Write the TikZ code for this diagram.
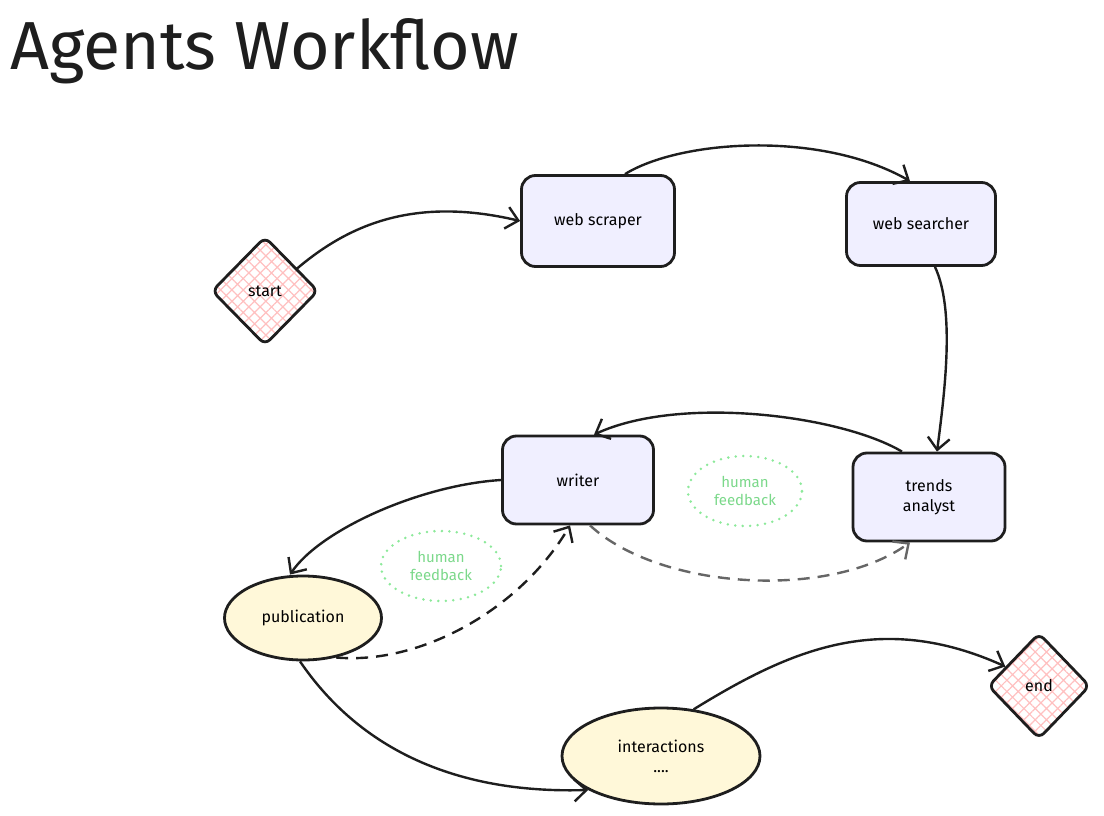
\documentclass[tikz,border=0pt]{standalone}
\usepackage{fontspec}
\setmainfont{Fira Sans}
\usetikzlibrary{shapes.geometric,arrows.meta,patterns.meta}
\definecolor{lav}{HTML}{F0EFFF}
\definecolor{ylw}{HTML}{FFF8D9}
\definecolor{pinkhatch}{HTML}{FFC0C0}
\definecolor{fbgreen}{HTML}{8CE99A}
\definecolor{fbtext}{HTML}{7BD88A}
\definecolor{ink}{HTML}{1E1E1E}
\definecolor{grayline}{HTML}{666666}
\begin{document}
\begin{tikzpicture}[x=1pt,y=1pt,
  agent/.style={draw=ink, line width=2.8pt, fill=lav, rounded corners=14pt,
    align=center, font=\fontsize{16}{20}\selectfont, inner sep=0pt},
  oval/.style={ellipse, draw=ink, line width=2.8pt, fill=ylw, align=center,
    font=\fontsize{16}{20}\selectfont, inner sep=0pt},
  gate/.style={diamond, draw=ink, line width=2.8pt, rounded corners=7pt,
    pattern={Hatch[angle=45,distance=8pt,line width=1.2pt]}, pattern color=pinkhatch,
    font=\fontsize{16}{20}\selectfont, inner sep=0pt},
  feedback/.style={ellipse, draw=fbgreen, line width=2.8pt, line cap=round,
    dash pattern=on 0pt off 7.5pt, text=fbtext, align=center,
    font=\fontsize{15}{18}\selectfont, inner sep=0pt},
  arr/.style={draw=ink, line width=2.4pt,
    -{Straight Barb[length=12pt,width=22pt,line width=2.4pt]}},
  dasharr/.style={arr, dash pattern=on 12pt off 8pt},
  grayarr/.style={dasharr, draw=grayline,
    -{Straight Barb[length=12pt,width=22pt,line width=2.4pt,color=grayline]}}
]
\useasboundingbox (0,0) rectangle (1104,-816);

% title
\node[anchor=base west, inner sep=0pt, font=\fontsize{68}{80}\selectfont, text=ink]
  (title) at (10,-70) {Agents Workflow};

% nodes
\node[gate, minimum width=106pt, minimum height=108pt] (start) at (265,-291) {start};
\node[agent, minimum width=153pt, minimum height=91pt] (scraper) at (598,-221) {web scraper};
\node[agent, minimum width=149pt, minimum height=83pt] (searcher) at (921,-224) {web searcher};
\node[agent, minimum width=152pt, minimum height=88pt] (trends) at (929,-497) {trends\\analyst};
\node[agent, minimum width=151pt, minimum height=88pt] (writer) at (578,-480) {writer};
\node[oval, minimum width=157pt, minimum height=84pt] (publication) at (303,-618) {publication};
\node[oval, minimum width=198pt, minimum height=96pt] (interactions) at (661,-756) {interactions\\....};
\node[gate, minimum width=102pt, minimum height=106pt] (end) at (1039,-686) {end};
\node[feedback, minimum width=114pt, minimum height=70pt] (fb1) at (745,-491) {human\\feedback};
\node[feedback, minimum width=120pt, minimum height=70pt] (fb2) at (441,-566) {human\\feedback};

% connectors
\draw[arr] (start.35) .. controls (345,-228) and (410,-195) .. (scraper.west);
\draw[arr] ([xshift=27pt]scraper.north) .. controls (680,-140) and (820,-130) .. ([xshift=-11pt]searcher.north);
\draw[arr] ([xshift=14pt]searcher.south) .. controls (955,-310) and (945,-390) .. ([xshift=8pt]trends.north);
\draw[arr] ([xshift=-27pt]trends.north) .. controls (840,-415) and (680,-395) .. ([xshift=16pt]writer.north);
\draw[arr] (writer.west) .. controls (420,-485) and (320,-530) .. ([xshift=-13pt]publication.north);
\draw[arr] ([xshift=-3pt]publication.south) .. controls (340,-720) and (420,-795) .. (interactions.205);
\draw[arr] (interactions.55) .. controls (790,-650) and (880,-610) .. (end.150);
\draw[dasharr] (publication.-50) .. controls (420,-665) and (520,-610) .. ([xshift=-8pt]writer.south);
\draw[grayarr] ([xshift=12pt]writer.south) .. controls (660,-590) and (830,-600) .. ([xshift=-19pt]trends.south);
\end{tikzpicture}
\end{document}
